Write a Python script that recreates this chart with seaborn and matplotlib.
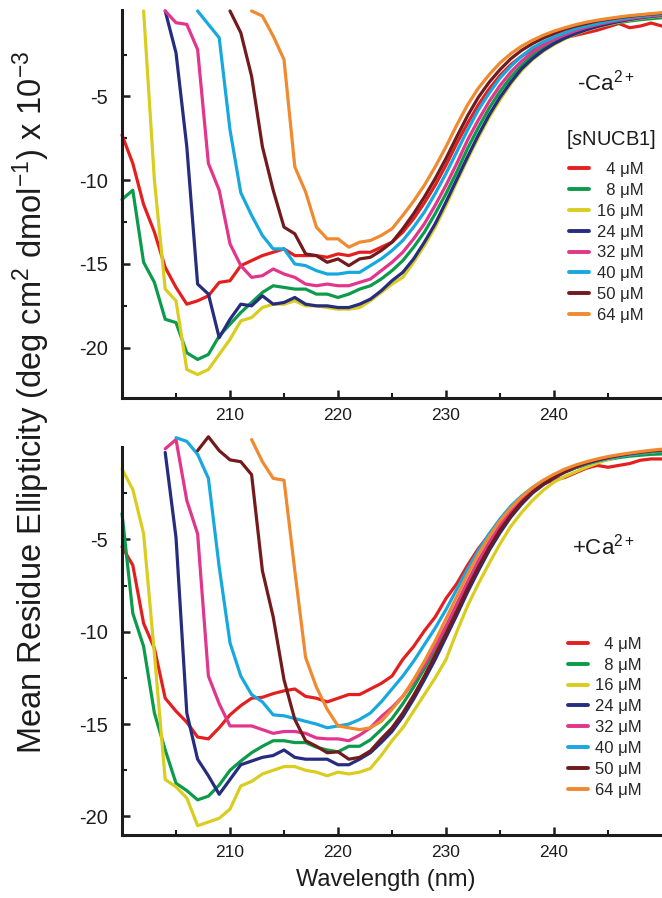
import numpy as np
import pandas as pd
import matplotlib
matplotlib.use("Agg")
import matplotlib.pyplot as plt
import seaborn as sns
from matplotlib.lines import Line2D
from matplotlib.ticker import FixedLocator

# ---------------- data ----------------
conc_labels = ["  4 \u03bcM", "  8 \u03bcM", "16 \u03bcM", "24 \u03bcM",
               "32 \u03bcM", "40 \u03bcM", "50 \u03bcM", "64 \u03bcM"]
colors = ["#e3201f", "#0c9b4a", "#d9cd20", "#262c80",
          "#e2358c", "#18a8e0", "#731a1d", "#f08a31"]

# first wavelength (nm) of each curve, 1 nm steps up to 250 nm
top_start = [200, 200, 202, 204, 204, 207, 210, 212]
bot_start = [200, 200, 200, 204, 204, 205, 207, 212]

# ---- -Ca2+ panel ----
top_4 = [-7.3, -9.0, -11.45, -13.1, -15.2, -16.4, -17.4, -17.2, -16.9, -16.1, -16.0,
         -15.1, -14.8, -14.5, -14.3, -14.1, -14.5, -14.5, -14.5, -14.6, -14.4,
         -14.5, -14.3, -14.3, -14.0, -13.7, -13.1, -12.3, -11.35, -10.3, -9.1,
         -7.8, -6.6, -5.5, -4.55, -3.75, -3.1, -2.6, -2.2, -1.9, -1.7,
         -1.5, -1.35, -1.2, -1.05, -0.85, -0.65, -0.9, -0.8, -0.62, -0.8]
top_8 = [-11.15, -10.6, -14.9, -16.1, -18.3, -18.5, -20.3, -20.7, -20.4, -19.3, -18.6,
         -17.9, -17.3, -16.7, -16.3, -16.4, -16.5, -16.5, -16.8, -16.8, -17.0,
         -16.8, -16.5, -16.3, -15.9, -15.4, -14.8, -14.0, -13.1, -12.0, -10.8,
         -9.5, -8.1, -6.85, -5.7, -4.7, -3.85, -3.15, -2.55, -2.1, -1.75,
         -1.45, -1.2, -1.0, -0.85, -0.7, -0.6, -0.5, -0.42, -0.36, -0.3]
top_16 = [0.1, -10.0, -16.5, -17.2, -21.3, -21.6, -21.3, -20.4, -19.5,
          -18.4, -18.2, -17.6, -17.4, -17.4, -17.2, -17.5, -17.5, -17.6, -17.7,
          -17.7, -17.6, -17.2, -16.7, -16.2, -15.8, -14.9, -13.9, -12.8, -11.5,
          -10.1, -8.75, -7.45, -6.25, -5.2, -4.25, -3.45, -2.8, -2.3, -1.9,
          -1.56, -1.28, -1.05, -0.86, -0.7, -0.56, -0.44, -0.34, -0.26, -0.2]
top_24 = [0.1, -2.4, -8.0, -16.2, -16.8, -19.4, -18.3,
          -17.4, -17.5, -16.9, -17.4, -17.3, -17.0, -17.4, -17.5, -17.5, -17.6,
          -17.6, -17.4, -17.1, -16.6, -16.0, -15.5, -14.7, -13.7, -12.6, -11.3,
          -9.95, -8.6, -7.3, -6.1, -5.05, -4.15, -3.35, -2.75, -2.25, -1.85,
          -1.52, -1.25, -1.02, -0.83, -0.67, -0.53, -0.41, -0.31, -0.23, -0.17]
top_32 = [0.1, -0.6, -0.7, -2.2, -9.0, -10.6, -13.8,
          -15.1, -15.8, -15.7, -15.3, -15.6, -15.8, -16.2, -16.3, -16.2, -16.3,
          -16.3, -16.1, -15.9, -15.4, -14.9, -14.3, -13.5, -12.6, -11.5, -10.3,
          -9.0, -7.6, -6.4, -5.3, -4.35, -3.55, -2.9, -2.35, -1.95, -1.6,
          -1.32, -1.08, -0.88, -0.72, -0.58, -0.46, -0.36, -0.27, -0.2, -0.14]
top_40 = [0.1, -0.7, -1.5, -7.0,
          -10.75, -12.1, -13.3, -14.1, -14.1, -15.0, -15.1, -15.4, -15.6, -15.6,
          -15.5, -15.5, -15.1, -14.7, -14.2, -13.6, -12.8, -11.9, -10.8, -9.6,
          -8.3, -7.0, -5.8, -4.8, -3.9, -3.2, -2.6, -2.1, -1.75, -1.45,
          -1.2, -0.97, -0.8, -0.65, -0.52, -0.4, -0.3, -0.22, -0.15, -0.1]
top_50 = [0.1,
          -1.2, -3.8, -8.0, -10.6, -12.8, -13.2, -14.4, -14.5, -14.9, -14.7,
          -15.1, -14.7, -14.6, -14.2, -13.7, -12.9, -12.0, -11.0, -9.9, -8.7,
          -7.4, -6.15, -5.05, -4.15, -3.4, -2.75, -2.25, -1.85, -1.52, -1.25,
          -1.0, -0.8, -0.65, -0.5, -0.4, -0.3, -0.22, -0.15, -0.09, -0.04]
top_64 = [0.1, -0.2, -1.4, -2.8, -9.2, -10.7, -12.8, -13.5, -13.5,
          -14.0, -13.7, -13.6, -13.3, -12.9, -12.1, -11.25, -10.3, -9.2, -8.0,
          -6.7, -5.5, -4.5, -3.7, -3.0, -2.45, -2.0, -1.65, -1.35, -1.1,
          -0.9, -0.72, -0.57, -0.45, -0.35, -0.26, -0.18, -0.12, -0.06, 0.0]

# ---- +Ca2+ panel ----
bot_4 = [-5.4, -6.4, -9.55, -10.9, -13.6, -14.3, -14.9, -15.7, -15.8, -15.2, -14.5,
         -14.0, -13.6, -13.55, -13.35, -13.2, -13.1, -13.5, -13.6, -13.8, -13.6,
         -13.4, -13.4, -13.1, -12.8, -12.4, -11.5, -10.8, -9.95, -9.2, -8.2,
         -7.4, -6.4, -5.5, -4.75, -4.05, -3.4, -2.85, -2.45, -2.0, -1.8,
         -1.65, -1.4, -1.15, -1.0, -1.1, -1.0, -0.9, -0.72, -0.65, -0.65]
bot_8 = [-3.6, -9.0, -10.8, -14.4, -16.4, -18.2, -18.6, -19.1, -18.9, -18.3, -17.5,
         -17.0, -16.55, -16.2, -15.9, -15.9, -16.0, -16.0, -16.25, -16.4, -16.5,
         -16.2, -16.2, -15.85, -15.3, -14.7, -13.9, -13.0, -12.0, -10.9, -9.75,
         -8.55, -7.35, -6.2, -5.2, -4.3, -3.55, -2.9, -2.4, -1.97, -1.62,
         -1.35, -1.12, -0.95, -0.8, -0.68, -0.58, -0.5, -0.45, -0.4, -0.38]
bot_16 = [-1.2, -2.3, -4.7, -11.2, -18.0, -18.4, -19.0, -20.5, -20.3, -20.1, -19.6,
          -18.35, -18.1, -17.7, -17.5, -17.3, -17.3, -17.5, -17.6, -17.8, -17.6,
          -17.7, -17.6, -17.4, -16.7, -15.9, -15.2, -14.3, -13.4, -12.5, -11.5,
          -10.0, -8.6, -7.4, -6.3, -5.25, -4.3, -3.55, -2.9, -2.35, -1.9,
          -1.6, -1.35, -1.1, -0.88, -0.68, -0.52, -0.42, -0.34, -0.28, -0.22]
bot_24 = [-0.3, -4.9, -14.4, -16.9, -17.8, -18.8, -18.0,
          -17.2, -17.0, -16.8, -16.7, -16.4, -16.8, -16.9, -16.9, -16.9, -17.2,
          -17.2, -16.9, -16.55, -16.0, -15.4, -14.6, -13.65, -12.6, -11.5, -10.3,
          -9.1, -7.85, -6.7, -5.6, -4.65, -3.8, -3.1, -2.5, -2.05, -1.67,
          -1.37, -1.12, -0.92, -0.75, -0.61, -0.5, -0.4, -0.32, -0.25, -0.2]
bot_32 = [-0.1, 0.4, -2.9, -4.7, -12.4, -13.9, -15.1,
          -15.1, -15.1, -15.3, -15.5, -15.4, -15.4, -15.5, -15.75, -15.8, -15.8,
          -15.9, -15.6, -15.2, -14.6, -14.1, -13.5, -12.7, -11.8, -10.8, -9.7,
          -8.5, -7.3, -6.15, -5.15, -4.25, -3.5, -2.85, -2.35, -1.9, -1.57,
          -1.3, -1.07, -0.88, -0.72, -0.59, -0.48, -0.38, -0.3, -0.23, -0.18]
bot_40 = [0.5, 0.3, -0.4, -1.7, -6.5, -10.6,
          -12.4, -13.4, -13.8, -14.5, -14.55, -14.7, -14.85, -15.0, -15.2, -15.1,
          -15.0, -14.75, -14.4, -13.8, -13.1, -12.4, -11.6, -10.7, -9.8, -8.8,
          -7.7, -6.6, -5.6, -4.7, -3.9, -3.2, -2.65, -2.2, -1.85, -1.55,
          -1.3, -1.1, -0.92, -0.77, -0.63, -0.52, -0.42, -0.33, -0.26, -0.2]
bot_50 = [-0.2, 0.55, -0.2, -0.7,
          -0.8, -1.5, -6.7, -9.2, -12.6, -14.75, -15.9, -16.2, -16.55, -16.5,
          -16.9, -16.8, -16.45, -15.8, -15.2, -14.4, -13.45, -12.4, -11.25, -10.1,
          -8.9, -7.65, -6.5, -5.45, -4.5, -3.7, -3.0, -2.45, -2.0, -1.63,
          -1.33, -1.08, -0.88, -0.72, -0.58, -0.47, -0.37, -0.29, -0.22, -0.17]
bot_64 = [0.4, -0.8, -1.7, -1.8, -6.7, -11.4, -13.0, -14.2, -15.1,
          -15.2, -15.3, -15.2, -14.85, -14.2, -13.5, -12.6, -11.6, -10.5, -9.3,
          -8.1, -6.9, -5.8, -4.85, -4.0, -3.3, -2.7, -2.2, -1.8, -1.48,
          -1.2, -0.98, -0.8, -0.65, -0.52, -0.42, -0.33, -0.25, -0.18, -0.12]

top_series = [top_4, top_8, top_16, top_24, top_32, top_40, top_50, top_64]
bot_series = [bot_4, bot_8, bot_16, bot_24, bot_32, bot_40, bot_50, bot_64]

x_major = [210, 220, 230, 240]
x_minor = [205, 215, 225, 235, 245]
y_major = [-5, -10, -15, -20]
y_minor = [-2.5, -7.5, -12.5, -17.5]


def long_frame(starts, series):
    rows = []
    for lab, st, vals in zip(conc_labels, starts, series):
        for i, v in enumerate(vals):
            rows.append({"wl": st + i, "mre": v, "conc": lab})
    return pd.DataFrame(rows)


# ---------------- style ----------------
sns.set_style("ticks")
plt.rcParams["font.family"] = ["Liberation Sans", "DejaVu Sans"]
plt.rcParams["mathtext.fontset"] = "custom"
plt.rcParams["mathtext.rm"] = "Liberation Sans"
plt.rcParams["mathtext.it"] = "Liberation Sans:italic"
plt.rcParams["axes.unicode_minus"] = False

ink = "#1c1c1c"
fig = plt.figure(figsize=(6.62, 8.98), dpi=100)
ax1 = fig.add_axes([0.1843, 0.5568, 0.8157, 0.4321])
ax2 = fig.add_axes([0.1843, 0.0702, 0.8157, 0.4321])

pal = dict(zip(conc_labels, colors))
for ax, starts, series, ylim in [(ax1, top_start, top_series, (-23, 0.16)),
                                 (ax2, bot_start, bot_series, (-21, 0.0))]:
    df = long_frame(starts, series)
    sns.lineplot(data=df, x="wl", y="mre", hue="conc", hue_order=conc_labels,
                 palette=pal, estimator=None, sort=False, legend=False,
                 linewidth=2.3, ax=ax)
    for ln in ax.lines:
        ln.set_clip_on(False)
    ax.set_xlim(200, 250)
    ax.set_ylim(*ylim)
    ax.set_xlabel("")
    ax.set_ylabel("")
    for s in ["top", "right"]:
        ax.spines[s].set_visible(False)
    for s in ["left", "bottom"]:
        ax.spines[s].set_linewidth(2.2)
        ax.spines[s].set_color(ink)
    ax.xaxis.set_major_locator(FixedLocator(x_major))
    ax.xaxis.set_minor_locator(FixedLocator(x_minor))
    ax.yaxis.set_major_locator(FixedLocator(y_major))
    ax.yaxis.set_minor_locator(FixedLocator(y_minor))
    ax.set_xticklabels([str(t) for t in x_major])
    ax.set_yticklabels([str(t) for t in y_major])
    ax.tick_params(which="major", direction="in", length=6, width=1.8,
                   color=ink, labelcolor=ink)
    ax.tick_params(which="minor", direction="in", length=3.5, width=1.5,
                   color=ink)
    ax.tick_params(axis="y", which="major", pad=10, labelsize=14.5)
    ax.tick_params(axis="x", which="major", pad=7, labelsize=12.5)

handles = [Line2D([], [], color=c, lw=2.8) for c in colors]
leg_kw = dict(frameon=False, fontsize=12, handlelength=1.2, handletextpad=0.45,
              labelspacing=0.35, borderpad=0, borderaxespad=0, loc="upper left")
ax1.legend(handles, conc_labels, bbox_to_anchor=(0.828, 0.608), **leg_kw)
ax2.legend(handles, conc_labels, bbox_to_anchor=(0.825, 0.511), **leg_kw)

ax1.text(0.896, 0.812, "-Ca$^{2+}$", transform=ax1.transAxes, fontsize=16,
         ha="center", va="center", color=ink)
ax1.text(0.906, 0.665, "[$\\it{s}$NUCB1]", transform=ax1.transAxes, fontsize=14.5,
         ha="center", va="center", color=ink)
ax2.text(0.891, 0.742, "+Ca$^{2+}$", transform=ax2.transAxes, fontsize=16,
         ha="center", va="center", color=ink)

fig.text(0.047, 0.552,
         "Mean Residue Ellipticity (deg cm$^2$ dmol$^{-1}$) x 10$^{-3}$",
         rotation=90, ha="center", va="center", fontsize=23.5, color=ink)
fig.text(0.583, 0.02, "Wavelength (nm)", ha="center", va="center",
         fontsize=17, color=ink)

fig.savefig("out.png", dpi=100)
